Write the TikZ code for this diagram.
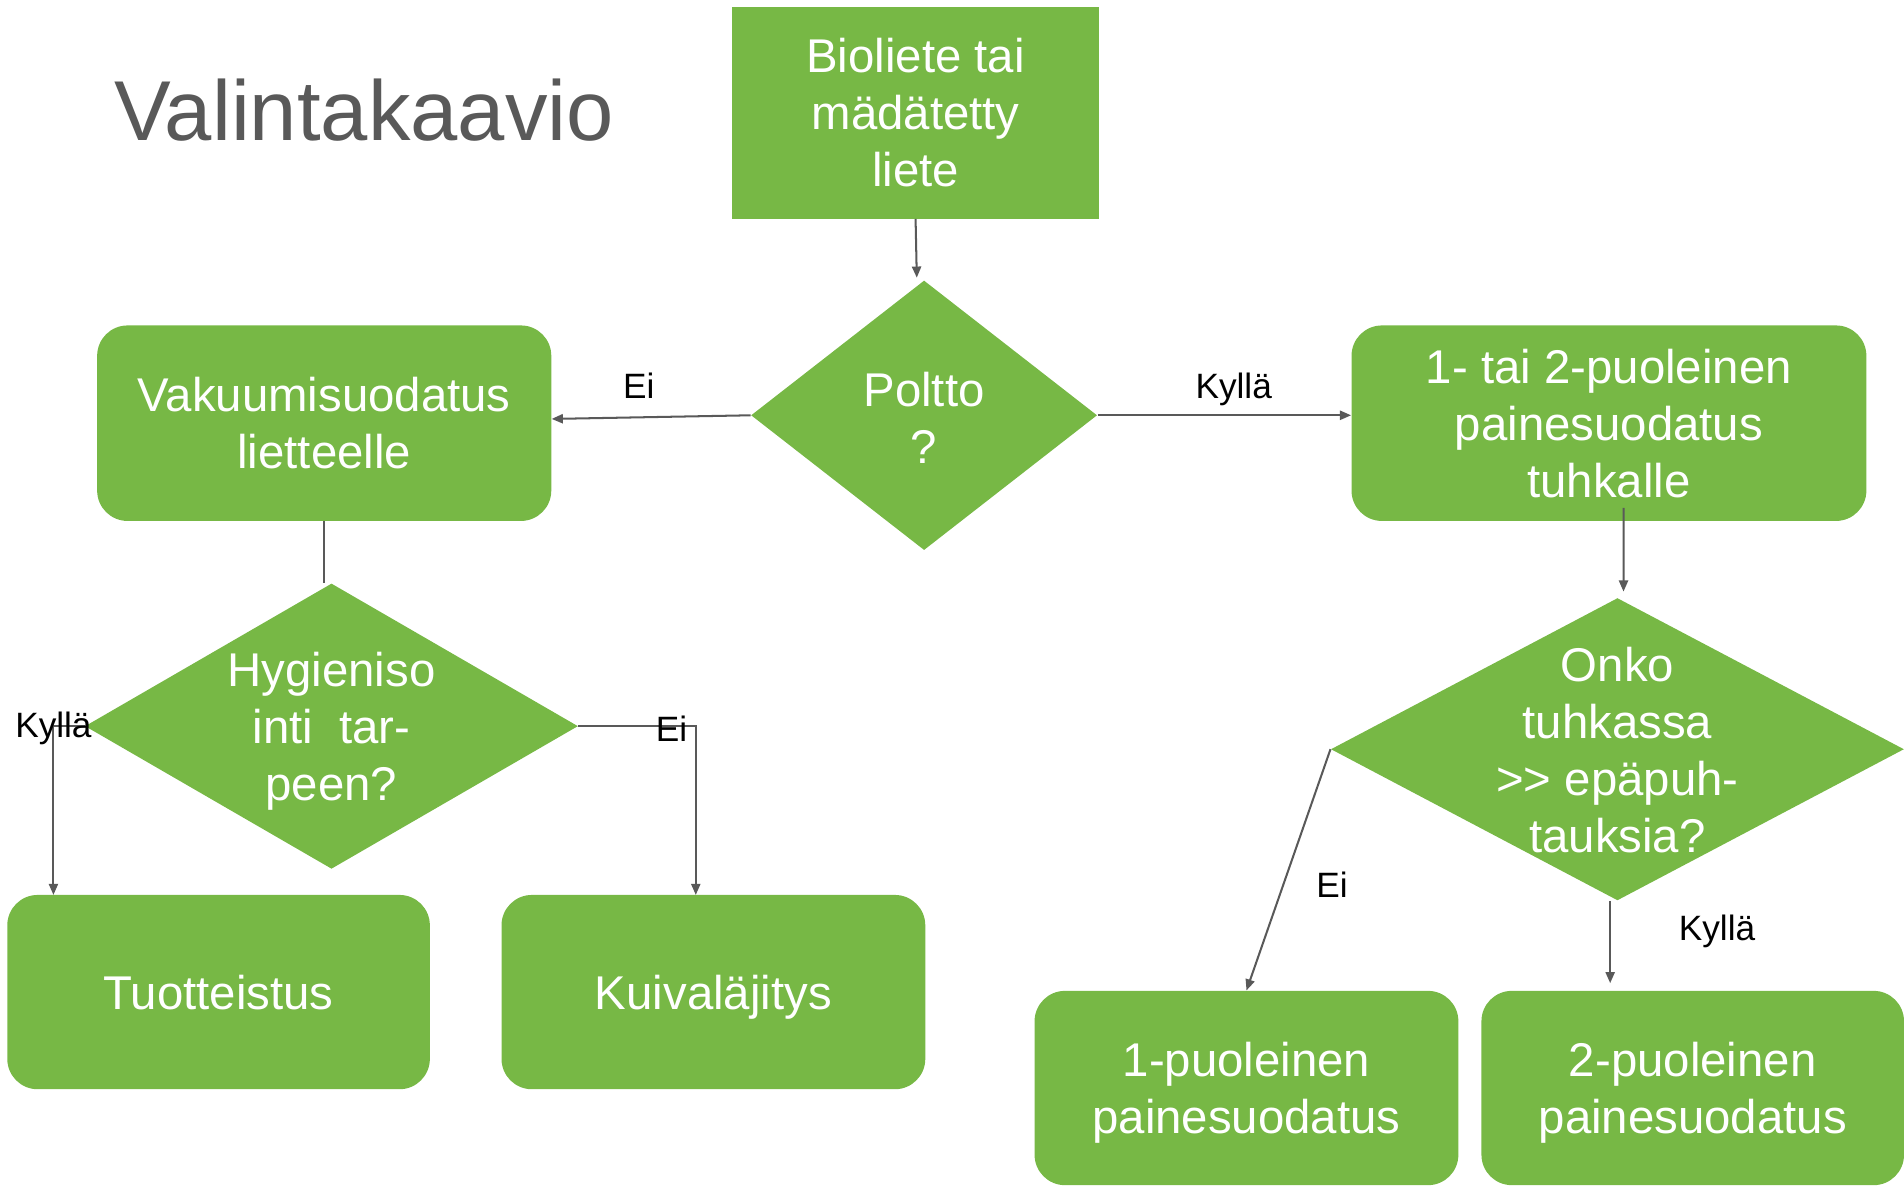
\documentclass[tikz,border=0pt]{standalone}
\usepackage{fontspec}
\setmainfont{Liberation Sans}
\usepackage{xcolor}
\definecolor{Col1}{RGB}{119,184,69}
\definecolor{Col2}{RGB}{89,89,89}
\usepackage{tikz}
\usetikzlibrary{shapes.geometric}
\usetikzlibrary{arrows.meta}
\tikzstyle{Box}=[rectangle,fill=Col1,inner sep=0pt,align=center,text=white,
font=\fontsize{23.4}{28.2}\selectfont]
\tikzstyle{RBox}=[Box,rounded corners=15pt]
\tikzstyle{Decision}=[diamond,fill=Col1,inner sep=0pt]
\tikzstyle{Txt}=[align=center,text=white,inner sep=0pt,
font=\fontsize{23.4}{28.2}\selectfont]
\tikzstyle{Edge}=[draw=Col2,line width=1pt,
-{Triangle[length=5.5pt,width=4.5pt]}]
\tikzstyle{EdgePlain}=[draw=Col2,line width=1pt]
\tikzstyle{Label}=[inner sep=0pt,font=\fontsize{17.4}{20}\selectfont]

\begin{document}
\begin{tikzpicture}[x=0.6pt,y=-0.6pt]
        \useasboundingbox(0,0)rectangle(1568,976);
        \node[anchor=base west,inner sep=0pt,text=Col2,
            font=\fontsize{42}{50}\selectfont](title)at(94,116){Valintakaavio};
        \node[Box,minimum width=181.2pt,minimum height=104.4pt](biol)
            at(754,93){Bioliete tai\\mädätetty\\liete};
        \node[Decision,minimum width=171pt,minimum height=133.2pt](poltto)
            at(761,342){};
        \node[Txt](polttot)at(761,344){Poltto\\?};
        \node[RBox,minimum width=224.4pt,minimum height=96.6pt](vak)
            at(267,348.5){Vakuumisuodatus\\lietteelle};
        \node[RBox,minimum width=254.4pt,minimum height=96.6pt](puol)
            at(1325,348.5){1- tai 2-puoleinen\\painesuodatus\\tuhkalle};
        \node[Decision,minimum width=243.6pt,minimum height=141pt](hyg)
            at(273,598){};
        \node[Txt](hygt)at(273,602.5){Hygieniso\\inti\ \ tar-\\peen?};
        \node[Decision,minimum width=283.2pt,minimum height=149.4pt](onko)
            at(1332,617){};
        \node[Txt](onkot)at(1332,618){Onko\\tuhkassa\\>{}> epäpuh-\\tauksia?};
        \node[RBox,minimum width=208.8pt,minimum height=96pt](tuot)
            at(180,817){Tuotteistus};
        \node[RBox,minimum width=209.4pt,minimum height=96pt,text depth=0pt]
            (kuiv)at(587.5,817){Kuivaläjitys};
        \node[RBox,minimum width=209.4pt,minimum height=96pt,text depth=0pt]
            (yksi)at(1026.5,896){1-puoleinen\\painesuodatus};
        \node[RBox,minimum width=208.8pt,minimum height=96pt,text depth=0pt]
            (kaksi)at(1394,896){2-puoleinen\\painesuodatus};
        \coordinate(k1)at(44,737);
        \coordinate(e1)at(573,737);
        \draw[Edge](biol.south)--([xshift=-3.6pt,yshift=1.2pt]poltto.north);
        \draw[Edge](poltto.west)--([yshift=2.1pt]vak.east);
        \draw[Edge](poltto.east)--(poltto.east-|puol.west);
        \draw[EdgePlain](vak.south)--(vak.south|-hyg.north);
        \draw[Edge](hyg.west)-|(k1);
        \draw[Edge](hyg.east)-|(e1);
        \draw[Edge]([xshift=7.2pt,yshift=6.6pt]puol.south)
            --([xshift=3pt,yshift=3pt]onko.north);
        \draw[Edge](onko.west)--(yksi.north);
        \draw[Edge]([xshift=-3.6pt]onko.south)
            --([xshift=-3.6pt,yshift=3.6pt]onko.south|-kaksi.north);
        \node[Label](ei1)at(526,318){Ei};
        \node[Label](ky1)at(1016,321){Kyllä};
        \node[Label](ky2)at(44,600){Kyllä};
        \node[Label](ei2)at(553,600){Ei};
        \node[Label](ei3)at(1097,729){Ei};
        \node[Label](ky3)at(1414,767){Kyllä};
    \end{tikzpicture}
\end{document}
